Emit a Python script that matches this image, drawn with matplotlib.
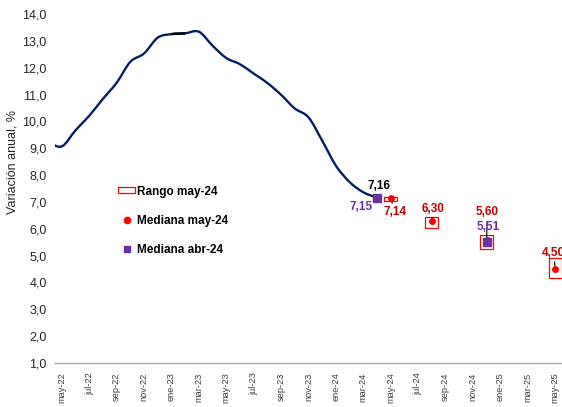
import matplotlib
matplotlib.use("Agg")
import matplotlib.pyplot as plt
import numpy as np
from matplotlib.path import Path
from matplotlib.patches import PathPatch, Patch
from matplotlib.lines import Line2D

plt.rcParams["font.family"] = ["Liberation Sans", "DejaVu Sans"]

# categorías del eje (mensual, etiqueta cada dos meses)
meses = ["may-22", "jun-22", "jul-22", "ago-22", "sep-22", "oct-22", "nov-22", "dic-22",
         "ene-23", "feb-23", "mar-23", "abr-23", "may-23", "jun-23", "jul-23", "ago-23",
         "sep-23", "oct-23", "nov-23", "dic-23", "ene-24", "feb-24", "mar-24", "abr-24",
         "may-24", "jun-24", "jul-24", "ago-24", "sep-24", "oct-24", "nov-24", "dic-24",
         "ene-25", "feb-25", "mar-25", "abr-25", "may-25"]

# inflación observada, abr-22 (un mes antes del eje) a abr-24
inflacion_inicio = -1
inflacion = [9.23, 9.07, 9.67, 10.21, 10.84, 11.44, 12.22, 12.53, 13.12, 13.25, 13.28,
             13.34, 12.82, 12.36, 12.13, 11.78, 11.43, 10.99, 10.48, 10.15, 9.28, 8.35,
             7.74, 7.36, 7.16]

# encuesta may-24: rango y mediana
enc_meses = ["may-24", "ago-24", "dic-24", "may-25"]
rango_min = [7.04, 6.02, 5.24, 4.18]
rango_max = [7.18, 6.45, 5.77, 4.90]
mediana_may = [7.14, 6.30, 5.60, 4.50]
mediana_may_txt = ["7,14", "6,30", "5,60", "4,50"]

# encuesta abr-24: mediana
abr_meses = ["abr-24", "dic-24"]
mediana_abr = [7.15, 5.51]
mediana_abr_txt = ["7,15", "5,51"]

yticks = list(range(1, 15))

NAVY = "#002060"
RED = "#FF0000"
DARKRED = "#C00000"
PURPLE = "#7030A0"


def curva(xs, ys, desde, hasta):
    # curva suavizada (estilo Excel) entre los puntos desde..hasta
    p = np.column_stack([xs, ys])
    n = len(p)
    verts = [p[desde]]
    codes = [Path.MOVETO]
    for i in range(desde, hasta):
        p0 = p[max(i - 1, 0)]
        p1, p2 = p[i], p[i + 1]
        p3 = p[min(i + 2, n - 1)]
        verts += [p1 + (p2 - p0) / 6, p2 - (p3 - p1) / 6, p2]
        codes += [Path.CURVE4] * 3
    return Path(verts, codes)


fig = plt.figure(figsize=(5.62, 4.07), dpi=100)
ax = fig.add_axes([55 / 562, 1 - 363 / 407, 1 - 55 / 562, 349 / 407])

x_inf = np.arange(len(inflacion)) + inflacion_inicio
ax.add_patch(PathPatch(curva(x_inf, inflacion, 0, len(inflacion) - 1),
                       facecolor="none", edgecolor=NAVY, lw=1.7, capstyle="round"))
i_ene = meses.index("ene-23") - inflacion_inicio
ax.add_patch(PathPatch(curva(x_inf, inflacion, i_ene, i_ene + 1),
                       facecolor="none", edgecolor="black", lw=1.7))

x_enc = [meses.index(m) for m in enc_meses]
x_abr = [meses.index(m) for m in abr_meses]

ax.bar(x_enc, np.array(rango_max) - np.array(rango_min), bottom=rango_min, width=0.95,
       fill=False, edgecolor=RED, lw=0.9, zorder=3)
ax.plot(x_enc, mediana_may, "o", color=RED, ms=4, zorder=4, ls="none")
ax.plot(x_abr, mediana_abr, "s", color=PURPLE, ms=5.5, zorder=5, ls="none")

txt = dict(ha="center", va="center", fontsize=8.5, fontweight="bold",
           textcoords="offset points")
lider = dict(arrowstyle="-", color="black", lw=0.8, shrinkA=0, shrinkB=0)

# último dato observado
ax.annotate(f"{inflacion[-1]:.2f}".replace(".", ","), (x_inf[-1], inflacion[-1]),
            xytext=(1.5, 8.5), color="black", **txt)

off_may = [(3, -10), (1, 8.5), (0.5, 19.5), (-1, 11.5)]
for x, y, t, o in zip(x_enc, mediana_may, mediana_may_txt, off_may):
    ax.annotate(t, (x, y), xytext=o, color=DARKRED, arrowprops=lider, **txt)

off_abr = [(-11.5, -6.5), (1.5, 11)]
for x, y, t, o in zip(x_abr, mediana_abr, mediana_abr_txt, off_abr):
    ax.annotate(t, (x, y), xytext=o, color=PURPLE, **txt)

ax.set_xlim(-0.5, len(meses) - 0.5)
ax.set_ylim(1, 14)
ax.set_xticks(range(0, len(meses), 2))
ax.set_xticklabels(meses[::2], rotation=90, fontsize=6.7, color="#404040")
ax.set_yticks(yticks)
ax.set_yticklabels([f"{v:.1f}".replace(".", ",") for v in yticks], fontsize=9, color="#262626")
ax.tick_params(axis="both", length=0)
ax.tick_params(axis="x", pad=7)
ax.tick_params(axis="y", pad=6)
ax.set_ylabel("Variación anual, %", fontsize=9, color="#262626")
ax.yaxis.set_label_coords(-36 / 507, 0.575)

for s in ["top", "right", "left"]:
    ax.spines[s].set_visible(False)
ax.spines["bottom"].set_color("#A6A6A6")
ax.spines["bottom"].set_linewidth(1.0)

handles = [Patch(facecolor="white", edgecolor=RED, lw=0.9),
           Line2D([], [], marker="o", color=RED, ls="none", ms=4.5),
           Line2D([], [], marker="s", color=PURPLE, ls="none", ms=5)]
labels = ["Rango may-24", "Mediana may-24", "Mediana abr-24"]
ax.legend(handles, labels, loc="upper left", bbox_to_anchor=(118 / 562, 1 - 185.5 / 407),
          bbox_transform=fig.transFigure, frameon=False, borderpad=0, borderaxespad=0,
          handlelength=1.45, handleheight=0.45, handletextpad=0.2, labelspacing=1.45,
          prop=dict(size=8.5, weight="bold"))

fig.savefig("out.png", dpi=100)
